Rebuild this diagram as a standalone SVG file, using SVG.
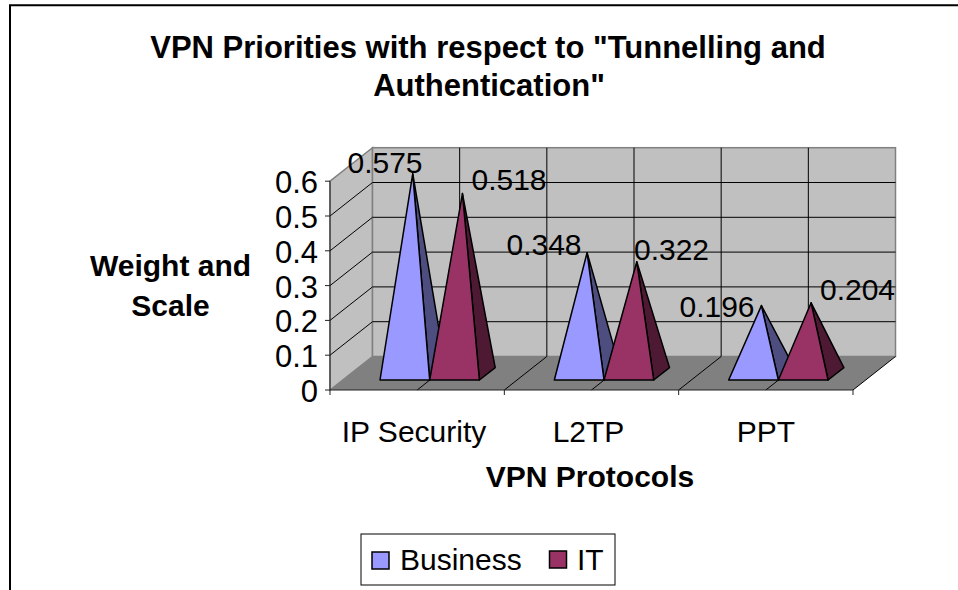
<svg xmlns="http://www.w3.org/2000/svg" width="958" height="590" viewBox="0 0 958 590">
  <style>
    .t { font-family: "Liberation Sans", Arial, sans-serif; font-size: 30px; fill: #000; }
    .b { font-weight: bold; }
    .m { text-anchor: middle; }
    .e { text-anchor: end; }
    .ttl { font-size: 31px; }
    .val { font-size: 31px; }
    .wall { fill: #c0c0c0; stroke: #808080; stroke-width: 1.5; }
    .floor { fill: #808080; stroke: none; }
    .grid { stroke: #000; stroke-width: 1; fill: none; }
    .axis { stroke: #222; stroke-width: 1; fill: none; }
    .face { stroke: #000; stroke-width: 1.5; stroke-linejoin: round; }
    .biz { fill: #9999ff; }
    .bizS { fill: #4d4d80; }
    .it { fill: #993366; }
    .itS { fill: #4d1933; }
  </style>

  <rect width="958" height="590" fill="#fff"/>
  <!-- chart area frame -->
  <path d="M10,590 V5.3 H958" fill="none" stroke="#000" stroke-width="2"/>

  <!-- title -->
  <g id="title">
    <text class="t b m ttl" x="488" y="58">VPN Priorities with respect to "Tunnelling and</text>
    <text class="t b m ttl" x="489" y="96">Authentication"</text>
  </g>

  <!-- 3D plot walls and floor -->
  <g id="walls">
    <polygon class="wall" points="330,390 330,181.2 372.5,147.7 372.5,356.5"/>
    <rect class="wall" x="372.5" y="147.7" width="523" height="208.8"/>
    <polygon class="floor" points="330,390 372.5,356.5 895.5,356.5 853,390"/>
  </g>

  <!-- gridlines -->
  <g id="gridlines" class="grid">
    <!-- back wall horizontals -->
    <path d="M372.5,321.7 H895.5 M372.5,286.9 H895.5 M372.5,252.1 H895.5 M372.5,217.3 H895.5 M372.5,182.5 H895.5"/>
    <!-- back wall verticals -->
    <path d="M459.67,147.7 V356.5 M546.83,147.7 V356.5 M634,147.7 V356.5 M721.17,147.7 V356.5 M808.33,147.7 V356.5"/>
    <!-- side wall -->
    <path d="M330,355.2 L372.5,321.7 M330,320.4 L372.5,286.9 M330,285.6 L372.5,252.1 M330,250.8 L372.5,217.3 M330,216 L372.5,182.5"/>
    <!-- floor -->
    <path d="M417.17,390 L459.67,356.5 M504.33,390 L546.83,356.5 M591.5,390 L634,356.5 M678.67,390 L721.17,356.5 M765.83,390 L808.33,356.5 M853,390 L895.5,356.5"/>
  </g>

  <!-- axes with tick marks -->
  <g id="axes" class="axis">
    <path d="M330,181.2 V390 H853"/>
    <path d="M325,390 H330 M325,355.2 H330 M325,320.4 H330 M325,285.6 H330 M325,250.8 H330 M325,216 H330 M325,181.2 H330"/>
    <path d="M330,390 V395 M504.33,390 V395 M678.67,390 V395 M853,390 V395"/>
  </g>

  <!-- value axis labels -->
  <g id="value-labels" class="t e val">
    <text x="318" y="402">0</text>
    <text x="318" y="367.2">0.1</text>
    <text x="318" y="332.4">0.2</text>
    <text x="318" y="297.6">0.3</text>
    <text x="318" y="262.8">0.4</text>
    <text x="318" y="228">0.5</text>
    <text x="318" y="193.2">0.6</text>
  </g>

  <!-- pyramids: front face + right side face -->
  <g id="series">
    <g id="ip-security">
      <polygon class="face bizS" points="429.7,380 445.5,367.6 412.75,173.7"/>
      <polygon class="face biz" points="380,380 429.7,380 412.75,173.7"/>
      <polygon class="face itS" points="479.4,380 495.2,367.6 462.45,193.54"/>
      <polygon class="face it" points="429.7,380 479.4,380 462.45,193.54"/>
    </g>
    <g id="l2tp">
      <polygon class="face bizS" points="604.03,380 619.83,367.6 587.08,252.7"/>
      <polygon class="face biz" points="554.33,380 604.03,380 587.08,252.7"/>
      <polygon class="face itS" points="653.73,380 669.53,367.6 636.78,261.74"/>
      <polygon class="face it" points="604.03,380 653.73,380 636.78,261.74"/>
    </g>
    <g id="ppt">
      <polygon class="face bizS" points="778.37,380 794.17,367.6 761.42,305.59"/>
      <polygon class="face biz" points="728.67,380 778.37,380 761.42,305.59"/>
      <polygon class="face itS" points="828.07,380 843.87,367.6 811.12,302.81"/>
      <polygon class="face it" points="778.37,380 828.07,380 811.12,302.81"/>
    </g>
  </g>

  <!-- data labels -->
  <g id="data-labels" class="t m">
    <text x="385" y="173">0.575</text>
    <text x="509" y="190">0.518</text>
    <text x="544" y="255">0.348</text>
    <text x="671.5" y="260">0.322</text>
    <text x="717" y="317">0.196</text>
    <text x="857.5" y="300">0.204</text>
  </g>

  <!-- category labels -->
  <g id="category-labels" class="t m">
    <text x="414" y="442">IP Security</text>
    <text x="588.5" y="442">L2TP</text>
    <text x="766" y="442">PPT</text>
  </g>

  <!-- axis titles -->
  <g id="axis-titles" class="t b m">
    <text x="170.5" y="276">Weight and</text>
    <text x="170.5" y="316">Scale</text>
    <text x="590" y="487">VPN Protocols</text>
  </g>

  <!-- legend -->
  <g id="legend">
    <rect x="361" y="534" width="254" height="51" fill="#fff" stroke="#000" stroke-width="1"/>
    <rect class="biz" x="372" y="552" width="17" height="17" stroke="#000" stroke-width="1.5"/>
    <text class="t" x="400" y="570">Business</text>
    <rect class="it" x="549.5" y="551" width="17" height="17" stroke="#000" stroke-width="1.5"/>
    <text class="t" x="577" y="570">IT</text>
  </g>
</svg>
